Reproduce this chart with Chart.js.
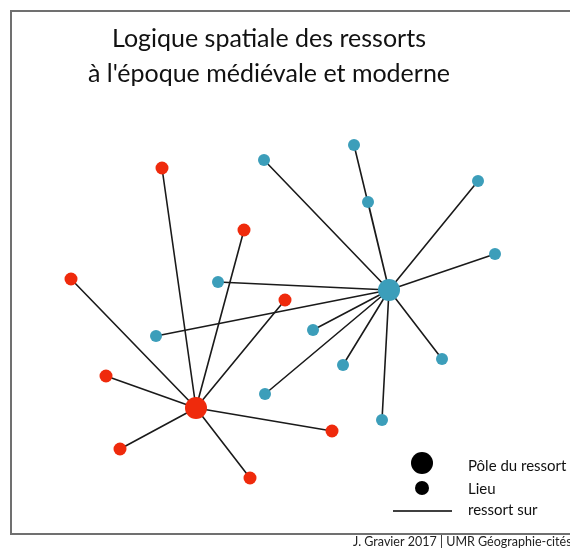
<!DOCTYPE html>
<html>
<head>
<meta charset="utf-8">
<script src="https://cdn.jsdelivr.net/npm/chart.js@4/dist/chart.umd.min.js"></script>
<style>
html,body{margin:0;padding:0;background:#fff;}
#wrap{position:relative;width:570px;height:548px;}
</style>
</head>
<body>
<div id="wrap"><canvas id="c" width="570" height="548"></canvas></div>
<script>
// ---- data (map units) ----
const titleLines = ["Logique spatiale des ressorts", "à l'époque médiévale et moderne"];
const legendLabels = ["Pôle du ressort", "Lieu", "ressort sur"];
const footerText = "J. Gravier 2017 | UMR Géographie-cités";

const redHub = {x: 196, y: 408};
const redLeavesX = [162, 244, 71, 285, 106, 120, 332, 250];
const redLeavesY = [168, 230, 279, 300, 376, 449, 431, 478];

const blueHub = {x: 389, y: 290};
const blueLeavesX = [264, 354, 368, 478, 495, 218, 156, 313, 343, 265, 382, 442];
const blueLeavesY = [160, 145, 202, 181, 254, 282, 336, 330, 365, 394, 420, 359];

const RED = '#ef2a0c';
const BLUE = '#3c9eba';

function pts(xs, ys){ return xs.map((x,i)=>({x:x, y:ys[i]})); }
function edges(hub, xs, ys){
  const out = [];
  xs.forEach((x,i)=>{ out.push({x:hub.x,y:hub.y}); out.push({x:x,y:ys[i]}); out.push({x:null,y:null}); });
  return out;
}

const overlay = {
  id: 'overlay',
  beforeDraw(chart){
    const ctx = chart.ctx;
    ctx.save();
    ctx.fillStyle = '#fff';
    ctx.fillRect(0,0,chart.width,chart.height);
    ctx.restore();
  },
  afterDraw(chart){
    const ctx = chart.ctx;
    ctx.save();
    // frame
    ctx.strokeStyle = '#707070';
    ctx.lineWidth = 2;
    ctx.strokeRect(11, 11, 580, 523);
    // title
    ctx.fillStyle = '#111';
    ctx.textAlign = 'center';
    ctx.textBaseline = 'alphabetic';
    ctx.font = '25px Lato, sans-serif';
    ctx.fillText(titleLines[0], 269, 47);
    ctx.fillText(titleLines[1], 269, 82);
    // legend
    ctx.fillStyle = '#000';
    ctx.beginPath(); ctx.arc(422, 463, 11, 0, Math.PI*2); ctx.fill();
    ctx.beginPath(); ctx.arc(422, 488, 7, 0, Math.PI*2); ctx.fill();
    ctx.strokeStyle = '#000';
    ctx.lineWidth = 1.5;
    ctx.beginPath(); ctx.moveTo(393, 511); ctx.lineTo(452, 511); ctx.stroke();
    ctx.textAlign = 'left';
    ctx.textBaseline = 'middle';
    ctx.font = '15px Lato, sans-serif';
    ctx.fillStyle = '#111';
    ctx.fillText(legendLabels[0], 468, 466);
    ctx.fillText(legendLabels[1], 468, 489);
    ctx.fillText(legendLabels[2], 468, 510);
    // footer
    ctx.font = '12.5px Lato, sans-serif';
    ctx.fillStyle = '#222';
    ctx.fillText(footerText, 353, 542);
    ctx.restore();
  }
};

new Chart(document.getElementById('c'), {
  type: 'scatter',
  data: {
    datasets: [
      {label:'ressort rouge', data: edges(redHub, redLeavesX, redLeavesY), showLine:true, spanGaps:false,
       borderColor:'#1a1a1a', borderWidth:1.6, pointRadius:0, order:3},
      {label:'ressort bleu', data: edges(blueHub, blueLeavesX, blueLeavesY), showLine:true, spanGaps:false,
       borderColor:'#1a1a1a', borderWidth:1.6, pointRadius:0, order:3},
      {label:'Lieu rouge', data: pts(redLeavesX, redLeavesY), backgroundColor:RED, borderColor:RED, pointRadius:6.5, borderWidth:0, order:2},
      {label:'Lieu bleu', data: pts(blueLeavesX, blueLeavesY), backgroundColor:BLUE, borderColor:BLUE, pointRadius:6, borderWidth:0, order:2},
      {label:'Pôle rouge', data: [redHub], backgroundColor:RED, borderColor:RED, pointRadius:11, borderWidth:0, order:1},
      {label:'Pôle bleu', data: [blueHub], backgroundColor:BLUE, borderColor:BLUE, pointRadius:11, borderWidth:0, order:1}
    ]
  },
  options: {
    responsive:false,
    animation:false,
    layout:{padding:0, autoPadding:false},
    plugins:{legend:{display:false}, tooltip:{enabled:false}, title:{display:false}},
    scales:{
      x:{type:'linear', min:0, max:570, display:false},
      y:{type:'linear', min:0, max:548, reverse:true, display:false}
    }
  },
  plugins:[overlay]
});
</script>
</body>
</html>
